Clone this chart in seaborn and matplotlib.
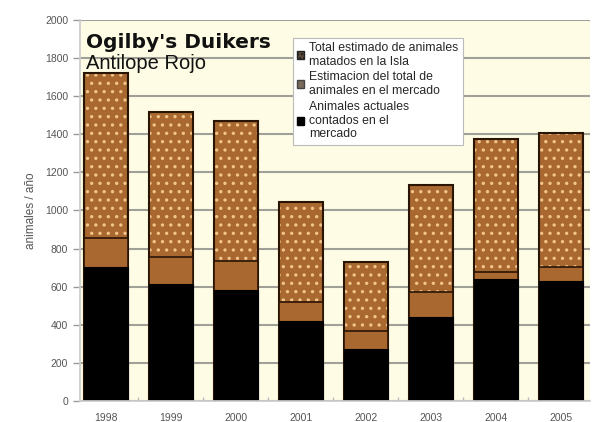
import numpy as np
import pandas as pd
import matplotlib
matplotlib.use("Agg")
import matplotlib.pyplot as plt
import seaborn as sns
from matplotlib.patches import Patch

years = ["1998", "1999", "2000", "2001", "2002", "2003", "2004", "2005"]
killed_total = [1720, 1515, 1470, 1045, 730, 1135, 1375, 1405]
market_total = [855, 755, 735, 520, 365, 570, 675, 705]
counted = [705, 615, 580, 420, 275, 440, 640, 630]

legend_labels = [
    "Total estimado de animales\nmatados en la Isla",
    "Estimacion del total de\nanimales en el mercado",
    "Animales actuales\ncontados en el\nmercado",
]

brown = "#a8682f"
dots = "#f2c48c"
dark = "#2a1505"
cream = "#fefce4"


def main():
    sns.set_theme(style="white")
    plt.rcParams["font.family"] = ["Liberation Sans", "DejaVu Sans"]
    plt.rcParams["hatch.linewidth"] = 1.2

    df = pd.DataFrame({"year": years, "killed": killed_total,
                       "market": market_total, "counted": counted})

    fig = plt.figure(figsize=(5.92, 4.22), dpi=100)
    ax = fig.add_axes([0.135, 0.05, 0.862, 0.9026])
    ax.set_facecolor(cream)
    ax.set_axisbelow(True)
    ax.yaxis.grid(True, color="#a0a098", linewidth=1.5)

    w = 0.68
    # dotted top layer (killed estimate)
    sns.barplot(data=df, x="year", y="killed", color=brown, width=w,
                saturation=1, edgecolor=dots, linewidth=0, hatch="..", ax=ax)
    # outline of the full bar
    sns.barplot(data=df, x="year", y="killed", fill=False, width=w,
                edgecolor=dark, linewidth=1.5, ax=ax)
    # plain brown market estimate
    sns.barplot(data=df, x="year", y="market", color=brown, width=w,
                saturation=1, edgecolor=dark, linewidth=1.2, ax=ax)
    # black counted
    sns.barplot(data=df, x="year", y="counted", color="black", width=w,
                saturation=1, edgecolor="black", linewidth=0.8, ax=ax)

    ax.set_xlim(-0.4, 7.45)
    ax.set_ylim(0, 2000)
    ax.set_yticks(np.arange(0, 2001, 200))
    ax.set_xlabel("")
    ax.set_ylabel("animales / año", color="#555555", fontsize=8.5, labelpad=6)
    ax.tick_params(axis="y", colors="#999999", labelcolor="#555555",
                   labelsize=7.5, length=5, width=1, direction="out", left=True)
    ax.tick_params(axis="x", labelcolor="#555555", labelsize=7.5,
                   length=0, pad=9)
    ax.set_xticks(np.arange(0.5, 7, 1), minor=True)
    ax.tick_params(axis="x", which="minor", length=3, color="#bbbbbb",
                   bottom=True, direction="in")
    for s in ["top", "right"]:
        ax.spines[s].set_visible(False)
    ax.spines["left"].set_color("#cccccc")
    ax.spines["bottom"].set_color("#cccccc")

    ax.text(0.012, 0.915, "Ogilby's Duikers", transform=ax.transAxes,
            fontsize=14.5, fontweight="bold", family="DejaVu Sans",
            color="#111111", va="bottom")
    ax.text(0.012, 0.86, "Antilope Rojo", transform=ax.transAxes,
            fontsize=14.5, color="#111111", va="bottom")

    handles = [
        Patch(facecolor="#5a4a3a", edgecolor="#222222", hatch="...."),
        Patch(facecolor="#7a6a5a", edgecolor="#444444"),
        Patch(facecolor="black", edgecolor="black"),
    ]
    leg = ax.legend(handles, legend_labels, loc="upper left",
                    bbox_to_anchor=(0.405, 0.97),
                    prop={"family": "Liberation Sans", "size": 8.8},
                    handlelength=0.6, handleheight=0.6, handletextpad=0.4,
                    labelspacing=0.3, borderpad=0.35, frameon=True,
                    fancybox=False, framealpha=1, edgecolor="#bbbbbb")
    leg.get_frame().set_linewidth(0.8)

    plt.savefig("out.png", dpi=100, facecolor="white")
    plt.close()


if __name__ == "__main__":
    main()
